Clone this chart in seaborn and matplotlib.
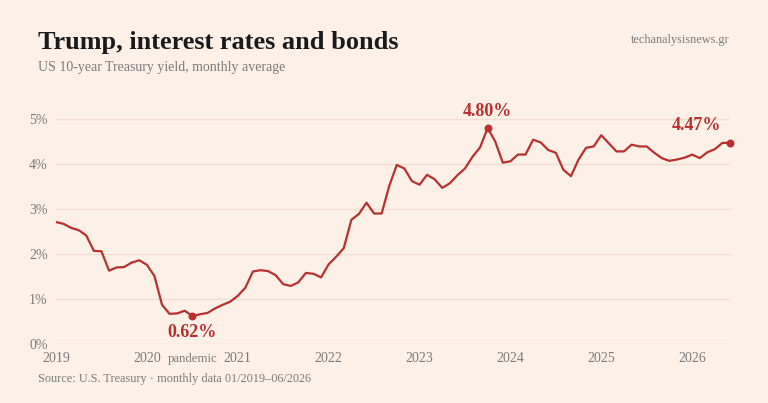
import numpy as np
import pandas as pd
import matplotlib
matplotlib.use("Agg")
import matplotlib.pyplot as plt
import seaborn as sns

# ---- data (monthly average, 01/2019 - 06/2026) ----
years = [2019, 2020, 2021, 2022, 2023, 2024, 2025, 2026]
yields = [
    2.71, 2.67, 2.58, 2.53, 2.41, 2.07, 2.06, 1.63, 1.70, 1.71, 1.81, 1.86,   # 2019
    1.76, 1.51, 0.87, 0.67, 0.68, 0.74, 0.62, 0.66, 0.69, 0.79, 0.87, 0.94,   # 2020
    1.07, 1.25, 1.61, 1.64, 1.62, 1.53, 1.33, 1.29, 1.37, 1.58, 1.56, 1.48,   # 2021
    1.77, 1.94, 2.13, 2.76, 2.89, 3.14, 2.90, 2.90, 3.51, 3.98, 3.90, 3.62,   # 2022
    3.54, 3.76, 3.66, 3.47, 3.57, 3.75, 3.90, 4.16, 4.37, 4.80, 4.50, 4.03,   # 2023
    4.06, 4.21, 4.21, 4.54, 4.48, 4.31, 4.25, 3.87, 3.73, 4.10, 4.36, 4.39,   # 2024
    4.64, 4.46, 4.28, 4.28, 4.43, 4.39, 4.39, 4.25, 4.13, 4.07, 4.10, 4.14,   # 2025
    4.21, 4.13, 4.26, 4.33, 4.47, 4.47,                                       # 2026
]
y_ticks = [0, 1, 2, 3, 4, 5]
y_tick_labels = ["0%", "1%", "2%", "3%", "4%", "5%"]
min_label = "0.62%"
max_label = "4.80%"
last_label = "4.47%"
event_label = "pandemic"

title = "Trump, interest rates and bonds"
subtitle = "US 10-year Treasury yield, monthly average"
brand = "techanalysisnews.gr"
source = "Source: U.S. Treasury \u00b7 monthly data 01/2019\u201306/2026"

df = pd.DataFrame({"month": np.arange(len(yields)), "yield": yields})

BG = "#fdf0e6"
RED = "#b8302f"
GRAY = "#7a7a7a"
GRID = "#f0e0d4"

sns.set_theme(style="white")
plt.rcParams["font.family"] = ["Liberation Serif", "DejaVu Serif"]

fig = plt.figure(figsize=(7.68, 4.03), dpi=100, facecolor=BG)
ax = fig.add_axes([56 / 768, 1 - 344 / 403, (730 - 56) / 768, (344 - 105.5) / 403])
ax.set_facecolor(BG)

sns.lineplot(data=df, x="month", y="yield", ax=ax, color=RED, linewidth=1.6)

ax.set_xlim(0, len(yields) - 1)
ax.set_ylim(0, 5.3)
ax.set_yticks(y_ticks)
ax.set_yticklabels(y_tick_labels)
ax.set_xticks([12 * i for i in range(len(years))])
ax.set_xticklabels([str(y) for y in years])
ax.tick_params(axis="both", length=0, colors=GRAY, labelsize=10)
ax.tick_params(axis="y", pad=6)
ax.tick_params(axis="x", pad=6)
ax.grid(axis="y", color=GRID, linewidth=1)
ax.grid(axis="x", visible=False)
for s in ax.spines.values():
    s.set_visible(False)
ax.set_xlabel("")
ax.set_ylabel("")

# annotations
imin = int(np.argmin(yields))
imax = int(np.argmax(yields))
ilast = len(yields) - 1
ax.scatter([imin, imax, ilast], [yields[imin], yields[imax], yields[ilast]],
           color=RED, s=22, zorder=5, clip_on=False)
ax.annotate(min_label, (imin, yields[imin]), xytext=(0, -12), textcoords="offset points",
            ha="center", va="center", color=RED, fontsize=13, fontweight="bold")
ax.annotate(max_label, (imax, yields[imax]), xytext=(0, 12), textcoords="offset points",
            ha="center", va="center", color=RED, fontsize=13, fontweight="bold")
ax.annotate(last_label, (ilast, yields[ilast]), xytext=(-6, 12.5), textcoords="offset points",
            ha="right", va="center", color=RED, fontsize=13, fontweight="bold")
ax.annotate(event_label, (imin, 0), xytext=(0, -10.5), textcoords="offset points",
            ha="center", va="center", color=GRAY, fontsize=9.2)

fig.text(38 / 768, 1 - 43 / 403, title, fontsize=18.9, fontweight="bold",
         color="#1a1a1a", ha="left", va="center")
fig.text(38 / 768, 1 - 67 / 403, subtitle, fontsize=10, color=GRAY,
         ha="left", va="center")
fig.text(729 / 768, 1 - 40 / 403, brand, fontsize=8.8, color=GRAY,
         ha="right", va="center")
fig.text(38 / 768, 1 - 379 / 403, source, fontsize=8.8, color=GRAY,
         ha="left", va="center")

fig.savefig("out.png", dpi=100, facecolor=BG)
